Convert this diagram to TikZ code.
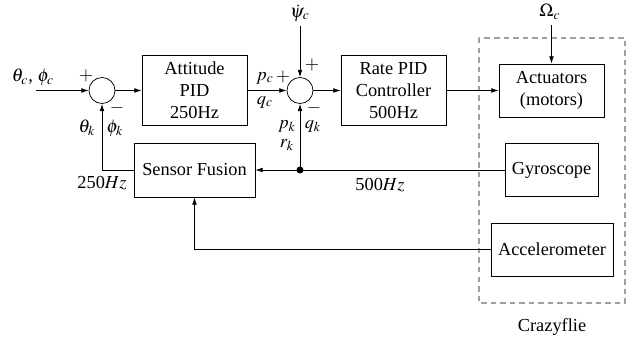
\documentclass[tikz,border=0pt]{standalone}
\usepackage{mathptmx}
\usepackage{fontspec}
\setmainfont{Liberation Serif}
\usetikzlibrary{arrows.meta}
\begin{document}
\begin{tikzpicture}[x=0.545pt,y=-0.545pt,
 blk/.style={draw, rectangle, align=center, inner sep=0pt, font=\fontsize{10}{12}\selectfont},
 sumj/.style={draw, circle, minimum size={26*0.545pt}, inner sep=0pt},
 arr/.style={-{Latex[length=4pt,width=2.6pt]}},
 lbl/.style={inner sep=0pt, font=\fontsize{10}{12}\selectfont},
 crazy/.style={draw=gray!75, line width=1pt, dash pattern=on 3pt off 2.2pt}]
\useasboundingbox (0,0) rectangle (644,339);
% blocks
\node[blk, minimum width={105*0.545pt}, minimum height={70*0.545pt}] (att) at (194.5,90.5) {Attitude\\PID\\250Hz};
\node[blk, minimum width={105*0.545pt}, minimum height={70*0.545pt}] (rate) at (393.5,90.5) {Rate PID\\Controller\\500Hz};
\node[blk, minimum width={105*0.545pt}, minimum height={53*0.545pt}] (act) at (551.5,90.5) {Actuators\\(motors)};
\node[blk, minimum width={93*0.545pt}, minimum height={53*0.545pt}] (gyro) at (551.5,170) {Gyroscope};
\node[blk, minimum width={122*0.545pt}, minimum height={53*0.545pt}] (acc) at (552,249.5) {Accelerometer};
\node[blk, minimum width={121*0.545pt}, minimum height={54*0.545pt}] (sf) at (194.5,170) {Sensor Fusion};
\node[sumj] (s1) at (102,90.5) {};
\node[sumj] (s2) at (300,90.5) {};
\draw[crazy] (479,38) rectangle (625,303);
% coordinates
\coordinate (in) at (36,90.5);
\coordinate (psi) at (300,26);
\coordinate (om) at (551.5,25);
\coordinate (dot) at (300,170);
% connectors
\draw[arr] (in) -- (s1);
\draw[arr] (s1) -- (att);
\draw[arr] (att) -- (s2);
\draw[arr] (s2) -- (rate);
\draw[arr] (rate) -- (act);
\draw[arr] (psi) -- (s2);
\draw[arr] (om) -- (act);
\draw[arr] (gyro.west) -- (sf.east);
\fill (dot) circle (1.9pt);
\draw[arr] (dot) -- (s2.south);
\draw[arr] (sf.west) -| (s1.south);
\draw[arr] (acc.west) -| (sf.south);
% labels
\node[lbl] (lin) at (33,77.5) {$\theta_c$, $\phi_c$};
\node[lbl] (p1) at (86,76) {$+$};
\node[lbl] (m1) at (117,108) {$-$};
\node[lbl] (tk) at (87,128) {$\theta_k$};
\node[lbl] (fk) at (115,128) {$\phi_k$};
\node[lbl] (pc) at (265,78) {$p_c$};
\node[lbl] (p2) at (283,77) {$+$};
\node[lbl] (qc) at (265,102) {$q_c$};
\node[lbl] (p3) at (312,65) {$+$};
\node[lbl] (m2) at (314,108) {$-$};
\node[lbl] (pk) at (287,126) {$p_k$};
\node[lbl] (qk) at (313,126) {$q_k$};
\node[lbl] (rk) at (287,145) {$r_k$};
\node[lbl] (lpsi) at (300,13) {$\dot{\psi}_c$};
\node[lbl] (lom) at (550,12) {$\Omega_c$};
\node[lbl] (f250) at (102,183) {250$Hz$};
\node[lbl] (f500) at (380,185) {500$Hz$};
\node[lbl] (cf) at (552,327) {Crazyflie};
\end{tikzpicture}
\end{document}
